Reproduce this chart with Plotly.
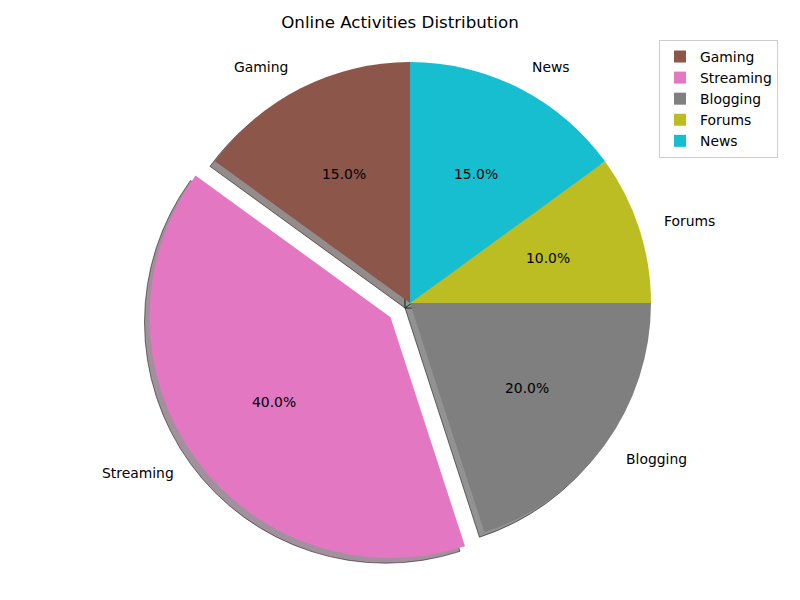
import math
import plotly.graph_objects as go

labels = ["Gaming", "Streaming", "Blogging", "Forums", "News"]
values = [15, 40, 20, 10, 15]
explode = [0, 0.1, 0, 0, 0]
colors = ["#8c564b", "#e377c2", "#7f7f7f", "#bcbd22", "#17becf"]
title = "Online Activities Distribution"

W, H = 800, 600
cx_px, cy_px, r_px = 410, 303, 241
shadow_off = 5
maxpull = max(explode)
total = sum(values)
# plotly's counterclockwise pies end the first slice at the rotation angle;
# shift so the first slice starts at 12 o'clock like matplotlib's startangle=90
rotation = -360.0 * values[0] / total

FS = 13.9


def hex2rgb(h):
    h = h.lstrip("#")
    return tuple(int(h[i:i + 2], 16) for i in (0, 2, 4))


shadow_fill = ["rgba(%d,%d,%d,0.5)" % tuple(int(0.3 * c) for c in hex2rgb(h)) for h in colors]
shadow_line = ["rgba(%d,%d,%d,0.6)" % tuple(int(0.2 * c) for c in hex2rgb(h)) for h in colors]

half = r_px * (1 + maxpull)


def dom(cx, cy):
    return dict(x=[(cx - half) / W, (cx + half) / W],
                y=[1 - (cy + half) / H, 1 - (cy - half) / H])


fig = go.Figure()
fig.add_trace(go.Pie(
    labels=labels, values=values, sort=False, direction="counterclockwise",
    rotation=rotation, pull=explode, textinfo="none", hoverinfo="skip",
    marker=dict(colors=shadow_fill, line=dict(color=shadow_line, width=1)),
    showlegend=False, domain=dom(cx_px - shadow_off, cy_px + shadow_off),
))
fig.add_trace(go.Pie(
    labels=labels, values=values, sort=False, direction="counterclockwise",
    rotation=rotation, pull=explode, textinfo="none",
    marker=dict(colors=colors, line=dict(width=0)),
    showlegend=True, domain=dom(cx_px, cy_px),
))

start = 90.0
annotations = []
for lab, v, ex in zip(labels, values, explode):
    span = 360.0 * v / total
    mid = math.radians(start + span / 2)
    start += span
    c, s = math.cos(mid), math.sin(mid)
    rp = (0.6 + ex) * r_px
    annotations.append(dict(
        x=(cx_px + rp * c) / W, y=1 - (cy_px - rp * s) / H, xref="paper", yref="paper",
        text="%.1f%%" % (100.0 * v / total), showarrow=False,
        xanchor="center", yanchor="middle",
        font=dict(family="DejaVu Sans", size=FS, color="black")))
    rl = (1.1 + ex) * r_px
    annotations.append(dict(
        x=(cx_px + rl * c) / W, y=1 - (cy_px - rl * s) / H, xref="paper", yref="paper",
        text=lab, showarrow=False,
        xanchor="left" if c > 0 else "right", yanchor="middle",
        font=dict(family="DejaVu Sans", size=FS, color="black")))

fig.update_layout(
    width=W, height=H,
    margin=dict(l=0, r=0, t=0, b=0),
    paper_bgcolor="white", plot_bgcolor="white",
    title=dict(text=title, x=0.5, xanchor="center", y=1 - 22 / H, yanchor="middle",
               font=dict(family="DejaVu Sans", size=16.67, color="black")),
    legend=dict(x=778 / W, xanchor="right", y=1 - 40 / H, yanchor="top",
                bgcolor="white", bordercolor="#cccccc", borderwidth=1,
                font=dict(family="DejaVu Sans", size=FS, color="black"),
                traceorder="normal"),
    annotations=annotations,
    font=dict(family="DejaVu Sans"),
)

fig.write_html("out.html", config={"displayModeBar": False},
               post_script="document.body.style.margin='0';document.body.style.padding='0';")
